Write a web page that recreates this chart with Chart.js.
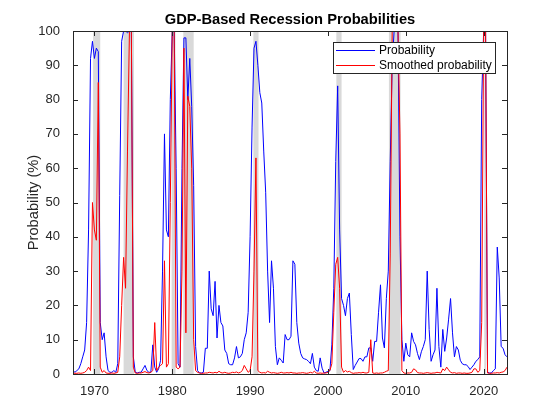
<!DOCTYPE html>
<html>
<head>
<meta charset="utf-8">
<title>GDP-Based Recession Probabilities</title>
<script src="https://cdn.jsdelivr.net/npm/chart.js@4.4.1/dist/chart.umd.min.js"></script>
<style>
  html, body { margin: 0; padding: 0; background: #fff; }
  #wrap { width: 560px; height: 420px; }
</style>
</head>
<body>
<div id="wrap"><canvas id="chart" width="560" height="420"></canvas></div>
<script>
// quarterly data, first point is 1967 Q2
const startYear = 1967.25;

// filtered probability (%), one row per year
const prob = [
  1, 0.5, 1,
  1.5, 3, 5, 7,          // 1968
  15, 42, 92, 97,        // 1969
  92, 95, 94, 15,        // 1970
  10, 12, 5, 1,
  0.5, 0.5, 1, 0.5,
  3, 52, 97, 100,        // 1973
  100, 99.5, 100, 100,
  5, 0.5, 0.3, 0.5,      // 1975
  0.5, 1.5, 2.5, 1,
  0.5, 0.5, 8.5, 2,
  0.5, 1.5, 4, 30,
  70, 42, 40, 80,        // 1979
  100, 100, 60, 3,       // 1980
  2, 60, 98, 98,
  80, 92, 78, 55,
  8, 1, 0.3, 0.3,        // 1983
  0.5, 7.5, 7.5, 30,
  19, 17, 27, 10.5,      // 1985
  20, 15, 14, 7,
  6, 3, 2.7, 2.7,
  4.7, 8, 4.7, 5,
  6, 10, 12, 18,         // 1989
  40, 72, 95, 97,        // 1990
  90, 82, 79, 65,
  53, 30, 15, 33,
  25, 8, 2.7, 4.7,
  4, 3.2, 11.5, 10,
  10, 11, 33, 32,        // 1995
  15, 9, 6, 4.7,
  4.4, 4.2, 3.7, 3,
  6, 2, 1, 0.8,
  4.7, 1.7, 0.3, 0.5,
  0.8, 1, 8.5, 25,       // 2000
  62, 84, 42, 22,
  20, 17, 22, 23.6,
  11.5, 1.3, 2.5, 3.5,
  4.5, 4.5, 3.7, 5,
  5, 7.6, 7.6, 3.7,      // 2005
  9.5, 9.5, 18, 26,
  10.5, 7.6, 22, 30,
  62, 90, 100, 100,      // 2008
  100, 40, 10, 3.7,
  9, 5.6, 5, 12,         // 2010
  9.5, 8.5, 6, 4.2,
  6.5, 8, 10, 30,
  13, 3.7, 5.6, 7,
  25, 8, 2, 13,
  6.6, 10.5, 16, 22,     // 2015
  12, 5, 8, 7,
  4, 3, 2.7, 2.7,
  2.2, 1.3, 2, 2.7,
  3.7, 4.2, 5, 80,
  100, 100, 0.5, 0.3,    // 2020
  0.3, 1, 1.5, 37,
  28, 8, 7.5, 5.6,
  5                      // 2023
];

// smoothed probability (%)
const smoothed = [
  0.3, 0.2, 0.2,
  0.3, 0.2, 0.3, 0.5,    // 1968
  1, 2, 1, 50,
  42, 39, 85, 2,         // 1970
  0.5, 1, 0.3, 0.2,
  0.2, 0.3, 0.2, 0.3,
  0.5, 5, 20, 34,        // 1973
  25, 65, 100, 100,
  2, 0.3, 0.2, 0.3,      // 1975
  0.3, 0.5, 0.7, 0.4,
  0.3, 0.5, 1, 15,
  1, 2, 2.5, 3,
  33, 2, 3, 50,          // 1979
  100, 100, 2, 1.5,
  2, 30, 95, 12,
  81, 78, 60, 10,        // 1982
  1, 0.5, 0.3, 0.2,
  0.2, 0.3, 0.3, 0.5,
  0.4, 0.3, 0.5, 0.3,    // 1985
  0.8, 0.4, 0.3, 0.5,
  0.3, 0.2, 0.3, 0.5,
  0.4, 0.6, 0.3, 0.5,
  1, 2.5, 1.5, 0.5,
  1, 5, 30, 63,          // 1990
  1, 0.5, 0.3, 0.4,
  0.3, 0.8, 0.5, 0.3,
  0.4, 0.3, 0.2, 0.3,
  0.5, 0.3, 0.3, 0.4,
  0.3, 0.5, 0.3, 0.3,    // 1995
  0.2, 0.3, 0.3, 0.4,
  0.3, 0.2, 0.3, 0.5,
  0.3, 0.8, 0.3, 0.2,
  0.3, 0.2, 0.3, 0.3,
  0.5, 1, 3, 18,         // 2000
  32, 34, 25, 2,
  0.5, 1, 0.6, 0.8,
  0.4, 0.2, 0.3, 0.3,
  0.4, 0.3, 0.5, 0.3,
  0.3, 0.5, 10, 0.3,     // 2005
  0.2, 0.3, 0.2, 0.3,
  0.3, 0.5, 0.8, 1,
  35, 100, 100, 100,     // 2008
  100, 70, 1, 0.3,
  0.2, 0.3, 0.3, 0.5,    // 2010
  1.5, 1.2, 0.4, 0.3,
  0.3, 0.2, 0.3, 0.4,
  0.3, 0.2, 0.3, 0.3,
  0.5, 0.4, 0.3, 1.5,
  1, 2, 1.2, 0.5,        // 2015
  0.3, 0.4, 0.2, 0.3,
  0.3, 0.2, 0.3, 0.2,
  0.2, 0.3, 0.5, 1.5,
  1.5, 0.5, 1, 15,
  100, 100, 0.3, 0.2,    // 2020
  0.2, 0.3, 0.3, 0.4,
  0.3, 0.5, 0.6, 1,
  2
];

// recession bands (years)
const recStart = [1969.83, 1973.75, 1979.92, 1981.42, 1990.42, 2001.08, 2007.83, 2020.08];
const recEnd   = [1970.75, 1975.08, 1980.42, 1982.75, 1991.08, 2001.75, 2009.33, 2020.33];

const xTicks = [1970, 1980, 1990, 2000, 2010, 2020];
const yTicks = [0, 10, 20, 30, 40, 50, 60, 70, 80, 90, 100];

const quarters = prob.map((_, i) => startYear + i / 4);

const axisColor = "#262626";
const fontFamily = "'Liberation Sans', Arial, Helvetica, sans-serif";

// grey recession shading behind the lines
const shading = {
  id: "shading",
  beforeDatasetsDraw(chart) {
    const { ctx, chartArea, scales } = chart;
    ctx.save();
    ctx.fillStyle = "rgb(217,217,217)";
    for (let k = 0; k < recStart.length; k++) {
      const x0 = scales.x.getPixelForValue(recStart[k]);
      const x1 = scales.x.getPixelForValue(recEnd[k]);
      ctx.fillRect(x0, chartArea.top, x1 - x0, chartArea.bottom - chartArea.top);
    }
    ctx.restore();
  },
};

// box, inward ticks, title, y label and legend (matlab look)
const frame = {
  id: "frame",
  afterDraw(chart) {
    const { ctx, chartArea: a, scales } = chart;
    const tl = 5;
    ctx.save();
    ctx.strokeStyle = axisColor;
    ctx.lineWidth = 1;
    ctx.beginPath();
    xTicks.forEach((v) => {
      const x = Math.round(scales.x.getPixelForValue(v)) + 0.5;
      ctx.moveTo(x, a.bottom); ctx.lineTo(x, a.bottom - tl);
      ctx.moveTo(x, a.top); ctx.lineTo(x, a.top + tl);
    });
    yTicks.forEach((v) => {
      const y = Math.round(scales.y.getPixelForValue(v)) + 0.5;
      ctx.moveTo(a.left, y); ctx.lineTo(a.left + tl, y);
      ctx.moveTo(a.right, y); ctx.lineTo(a.right - tl, y);
    });
    ctx.stroke();
    ctx.strokeRect(Math.round(a.left) + 0.5, Math.round(a.top) + 0.5,
      Math.round(a.right - a.left), Math.round(a.bottom - a.top));

    // title
    ctx.fillStyle = "#000";
    ctx.font = "bold 14.7px " + fontFamily;
    ctx.textAlign = "center";
    ctx.textBaseline = "middle";
    ctx.fillText("GDP-Based Recession Probabilities", (a.left + a.right) / 2, 20);

    // y label
    ctx.save();
    ctx.translate(34, (a.top + a.bottom) / 2);
    ctx.rotate(-Math.PI / 2);
    ctx.fillStyle = axisColor;
    ctx.font = "14.7px " + fontFamily;
    ctx.fillText("Probability (%)", 0, 0);
    ctx.restore();

    // legend box
    const lx = 333, ly = 42, lw = 162, lh = 31;
    ctx.fillStyle = "#fff";
    ctx.fillRect(lx, ly, lw, lh);
    ctx.strokeStyle = axisColor;
    ctx.strokeRect(lx + 0.5, ly + 0.5, lw, lh);
    ctx.font = "12px " + fontFamily;
    ctx.textAlign = "left";
    chart.data.datasets.forEach((ds, k) => {
      const y = ly + 8 + k * 15;
      ctx.strokeStyle = ds.borderColor;
      ctx.beginPath();
      ctx.moveTo(lx + 3, y + 0.5);
      ctx.lineTo(lx + 42, y + 0.5);
      ctx.stroke();
      ctx.fillStyle = "#000";
      ctx.fillText(ds.label, lx + 46, y + 1);
    });
    ctx.restore();
  },
};

new Chart(document.getElementById("chart"), {
  type: "line",
  data: {
    datasets: [
      {
        label: "Probability",
        data: prob.map((v, i) => ({ x: quarters[i], y: v })),
        borderColor: "#0000ff",
        borderWidth: 1,
        pointRadius: 0,
        tension: 0,
        order: 2,
      },
      {
        label: "Smoothed probability",
        data: smoothed.map((v, i) => ({ x: quarters[i], y: v })),
        borderColor: "#ff0000",
        borderWidth: 1,
        pointRadius: 0,
        tension: 0,
        order: 1,
      },
    ],
  },
  options: {
    responsive: false,
    animation: false,
    layout: { padding: { top: 31, right: 53, left: 0, bottom: 0 } },
    plugins: {
      legend: { display: false },
      title: { display: false },
      tooltip: { enabled: false },
    },
    scales: {
      x: {
        type: "linear",
        min: quarters[0],
        max: quarters[quarters.length - 1],
        afterBuildTicks: (s) => { s.ticks = xTicks.map((v) => ({ value: v })); },
        afterFit: (s) => { s.height = 46; },
        grid: { display: false },
        border: { display: false },
        ticks: {
          color: axisColor,
          font: { family: fontFamily, size: 13 },
          padding: 2,
          maxRotation: 0,
          autoSkip: false,
          callback: (v) => String(v),
        },
      },
      y: {
        min: 0,
        max: 100,
        afterBuildTicks: (s) => { s.ticks = yTicks.map((v) => ({ value: v })); },
        afterFit: (s) => { s.width = 73; },
        grid: { display: false },
        border: { display: false },
        ticks: {
          color: axisColor,
          font: { family: fontFamily, size: 13 },
          padding: 5,
        },
      },
    },
  },
  plugins: [shading, frame],
});
</script>
</body>
</html>
